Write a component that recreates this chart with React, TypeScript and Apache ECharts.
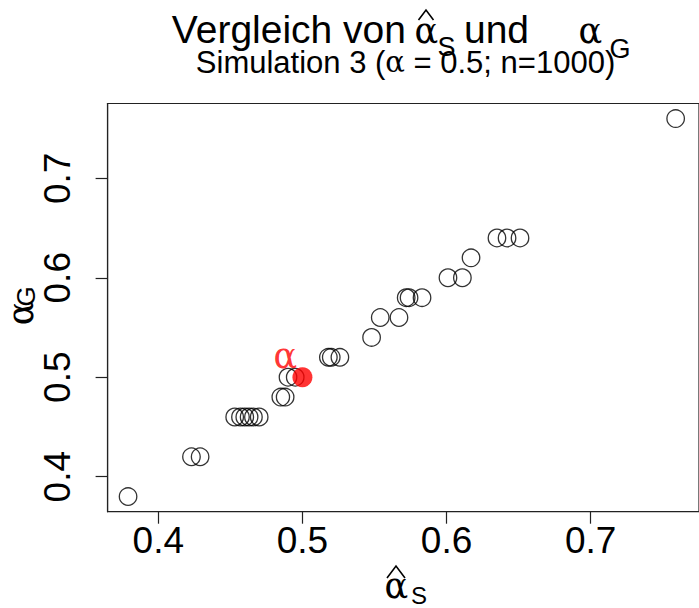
import React, { useEffect, useRef } from "react";
import * as echarts from "echarts";

// alpha_S hat (x) and alpha_G (y) estimates
const alphaS = [
  0.379,
  0.423, 0.429,
  0.453, 0.457, 0.46, 0.463, 0.466, 0.47,
  0.485, 0.488,
  0.49, 0.495,
  0.518, 0.52, 0.526,
  0.548,
  0.554, 0.567,
  0.572, 0.574, 0.583,
  0.601, 0.611,
  0.617,
  0.635, 0.642, 0.651,
  0.759,
];
const alphaG = [
  0.38,
  0.42, 0.42,
  0.46, 0.46, 0.46, 0.46, 0.46, 0.46,
  0.48, 0.48,
  0.5, 0.5,
  0.52, 0.52, 0.52,
  0.54,
  0.56, 0.56,
  0.58, 0.58, 0.58,
  0.6, 0.6,
  0.62,
  0.64, 0.64, 0.64,
  0.76,
];
const trueAlpha = [0.5, 0.5];
const tickValues = [0.4, 0.5, 0.6, 0.7];
const axisMin = 0.3648;
const axisMax = 0.7752;

const SANS = "'Liberation Sans', Arial, sans-serif";
const GREEK = "'DejaVu Serif', 'Liberation Serif', serif";

export default function App() {
  const ref = useRef<HTMLDivElement>(null);
  useEffect(() => {
    if (!ref.current) return;
    const chart = echarts.init(ref.current, null, { renderer: "svg" });
    const axisCommon = {
      type: "value" as const,
      min: axisMin,
      max: axisMax,
      splitLine: { show: false },
      axisLine: { show: true, lineStyle: { color: "#222", width: 1.2 } },
      axisTick: { show: true, length: 12, customValues: tickValues, lineStyle: { color: "#222", width: 1.2 } },
    };
    const txt = (
      text: string,
      x: number,
      y: number,
      size: number,
      font: string,
      align: string = "left",
      extra: any = {}
    ) => ({
      type: "text",
      x,
      y,
      silent: true,
      ...extra,
      style: {
        text,
        fontSize: size,
        fontFamily: font,
        fill: "#000",
        align,
        verticalAlign: "middle",
        lineHeight: size,
      },
    });
    const hat = (cx: number, top: number, w: number, h: number) => ({
      type: "polyline",
      silent: true,
      shape: { points: [[cx - w / 2, top + h], [cx, top], [cx + w / 2, top + h]] },
      style: { stroke: "#000", lineWidth: 1.6, fill: "none" },
    });
    chart.setOption({
      animation: false,
      grid: {
        left: 107.6,
        top: 103.5,
        width: 599.5,
        height: 408.2,
        show: true,
        borderColor: "#222",
        borderWidth: 1.2,
        containLabel: false,
      },
      xAxis: {
        ...axisCommon,
        axisLabel: {
          customValues: tickValues,
          formatter: (v: number) => v.toFixed(1),
          fontSize: 37,
          fontFamily: SANS,
          color: "#000",
          margin: 10.5,
        },
      },
      yAxis: {
        ...axisCommon,
        axisLabel: {
          customValues: tickValues,
          formatter: (v: number) => v.toFixed(1),
          fontSize: 37,
          fontFamily: SANS,
          color: "#000",
          rotate: 90,
          margin: 32,
        },
      },
      series: [
        {
          type: "scatter",
          data: alphaS.map((x, i) => [x, alphaG[i]]),
          symbol: "circle",
          symbolSize: 17.5,
          itemStyle: { color: "rgba(0,0,0,0)", borderColor: "#000", borderWidth: 1.3 },
          z: 2,
        },
        {
          type: "scatter",
          data: [trueAlpha],
          symbol: "circle",
          symbolSize: 20,
          itemStyle: { color: "#ff0000", borderColor: "#ff0000", borderWidth: 0 },
          label: {
            show: true,
            formatter: "α",
            position: "inside",
            offset: [-17, -21.5],
            color: "#ff0000",
            fontSize: 35,
            fontFamily: GREEK,
            align: "center",
            verticalAlign: "middle",
          },
          z: 3,
        },
      ],
      graphic: [
        // main title
        txt("Vergleich von", 406, 29.8, 39, SANS, "right"),
        txt("α", 414.5, 31.2, 35, GREEK),
        hat(426, 10, 15, 10),
        txt("S", 437.5, 47, 27, SANS),
        txt("und", 496.5, 29.8, 39, SANS, "center"),
        txt("α", 578.5, 31.2, 35, GREEK),
        txt("G", 609.5, 49, 27, SANS),
        // subtitle
        {
          type: "text",
          x: 405.5,
          y: 62.3,
          silent: true,
          style: {
            text: "Simulation 3 ({a|α} = 0.5; n=1000)",
            fontSize: 31,
            fontFamily: SANS,
            fill: "#000",
            align: "center",
            verticalAlign: "middle",
            rich: { a: { fontSize: 29, fontFamily: GREEK, fill: "#000" } },
          },
        },
        // x axis title
        txt("α", 384.5, 586, 35, GREEK),
        hat(396, 566, 18, 12),
        txt("S", 411, 595.5, 24, SANS),
        // y axis title
        txt("α", 21, 313.5, 35, GREEK, "center", { rotation: Math.PI / 2 }),
        txt("G", 25.5, 296.5, 26, SANS, "center", { rotation: Math.PI / 2 }),
      ],
    });
    return () => chart.dispose();
  }, []);
  return (
    <div
      ref={ref}
      style={{ position: "absolute", left: 0, top: 0, width: 699, height: 608, overflow: "hidden", background: "#fff" }}
    />
  );
}
